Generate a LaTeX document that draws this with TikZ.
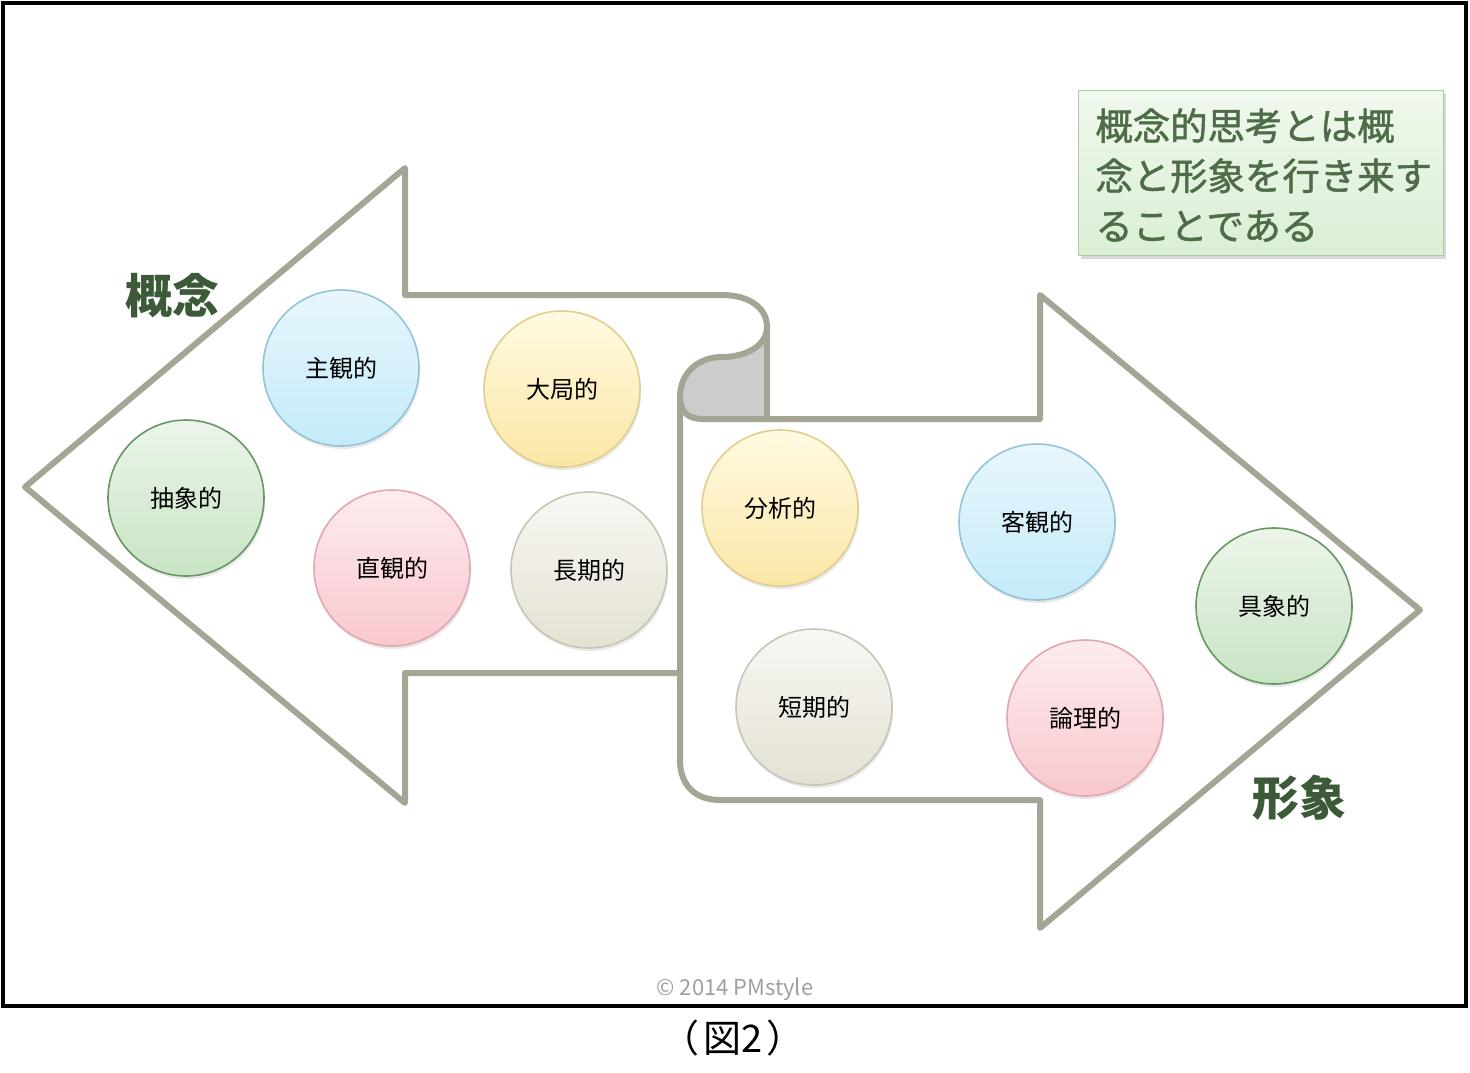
\documentclass[tikz,border=0pt]{standalone}
\usepackage{fontspec}
\newfontfamily\jp{Noto Sans CJK JP}
\newfontfamily\jpm[FakeBold=1.3]{Noto Sans CJK JP}
\usetikzlibrary{shadows}
\definecolor{arrowgray}{RGB}{165,165,150}
\definecolor{curlgray}{RGB}{204,204,204}
\definecolor{gtop}{RGB}{236,245,234}
\definecolor{gbot}{RGB}{200,228,196}
\definecolor{gbord}{RGB}{104,150,100}
\definecolor{btop}{RGB}{232,246,252}
\definecolor{bbot}{RGB}{196,235,249}
\definecolor{bbord}{RGB}{150,196,214}
\definecolor{ytop}{RGB}{255,250,226}
\definecolor{ybot}{RGB}{250,230,166}
\definecolor{ybord}{RGB}{226,206,140}
\definecolor{ptop}{RGB}{252,236,238}
\definecolor{pbot}{RGB}{248,200,206}
\definecolor{pbord}{RGB}{228,166,174}
\definecolor{etop}{RGB}{248,247,242}
\definecolor{ebot}{RGB}{228,225,212}
\definecolor{ebord}{RGB}{200,197,180}
\definecolor{labgreen}{RGB}{60,90,56}
\definecolor{boxtext}{RGB}{78,108,72}
\definecolor{boxtop}{RGB}{240,248,237}
\definecolor{boxbot}{RGB}{218,239,212}
\definecolor{boxbord}{RGB}{170,204,160}
\definecolor{copygray}{RGB}{160,160,160}
\tikzset{
  arrowline/.style={draw=arrowgray, line width=3pt, line join=round},
  bubble/.style={circle, minimum size=78pt, inner sep=0pt, line width=0.8pt,
    font=\jp\fontsize{12}{14}\selectfont,
    drop shadow={opacity=0.18, shadow xshift=0.6pt, shadow yshift=-1.5pt}},
  gb/.style={bubble, draw=gbord, top color=gtop, bottom color=gbot},
  bb/.style={bubble, draw=bbord, top color=btop, bottom color=bbot},
  yb/.style={bubble, draw=ybord, top color=ytop, bottom color=ybot},
  pb/.style={bubble, draw=pbord, top color=ptop, bottom color=pbot},
  eb/.style={bubble, draw=ebord, top color=etop, bottom color=ebot},
  biglabel/.style={font=\jp\bfseries\fontsize{23.5}{26}\selectfont, text=labgreen, inner sep=0pt},
}
\begin{document}
\begin{tikzpicture}[x=0.5pt,y=-0.5pt]
\useasboundingbox (0,0) rectangle (1470,1072);
\fill[white] (0,0) rectangle (1470,1072);
\draw[black, line width=2pt] (3,3) rectangle (1466,1006);

% curl fill
\fill[curlgray] (767,327) .. controls (767,345) and (747,357) .. (722,357)
  .. controls (698,357) and (680,373) .. (680,397)
  .. controls (680,412) and (688,419) .. (703,419) -- (767,419) -- cycle;

% left arrow
\draw[arrowline] (680,673) -- (405,673) -- (405,803) -- (25,487) -- (405,168) -- (405,295) -- (722,295)
  .. controls (748,295) and (767,307) .. (767,327)
  .. controls (767,345) and (747,357) .. (722,357)
  .. controls (698,357) and (680,373) .. (680,397);
% right arrow
\draw[arrowline] (680,397) -- (680,760) .. controls (680,785) and (695,800) .. (720,800)
  -- (1040,800) -- (1040,928) -- (1420,610) -- (1040,295) -- (1040,419) -- (767,419) -- (767,327);
\draw[arrowline] (680,397) .. controls (680,412) and (688,419) .. (703,419) -- (767,419);

% bubbles
\node[gb] (abs) at (186,498) {抽象的};
\node[bb] (subj) at (341,368) {主観的};
\node[yb] (big) at (562,389) {大局的};
\node[pb] (intu) at (392,568) {直観的};
\node[eb] (long) at (589,570) {長期的};
\node[yb] (anal) at (780,508) {分析的};
\node[bb] (obj) at (1037,522) {客観的};
\node[gb] (conc) at (1274,606) {具象的};
\node[eb] (short) at (814,707) {短期的};
\node[pb] (logi) at (1085,718) {論理的};

% labels
\node[biglabel] (gainen) at (172,296) {概念};
\node[biglabel] (keisho) at (1299,798) {形象};

% top-right box
\node[draw=boxbord, line width=0.8pt, top color=boxtop, bottom color=boxbot,
  minimum width=182.5pt, minimum height=82.5pt,
  drop shadow={opacity=0.3, shadow xshift=1.2pt, shadow yshift=-1.5pt}] (tbox) at (1261,173) {};
\node[anchor=north west, inner sep=0pt, align=left, text=boxtext,
  font=\jpm\fontsize{18.7}{25}\selectfont] (tboxtext) at (1095,108)
  {概念的思考とは概\\念と形象を行き来す\\ることである};

% copyright and caption
\node[font=\jp\fontsize{11}{13}\selectfont, text=copygray] (copy) at (735,989) {© 2014 PMstyle};
\node[font=\jp\fontsize{19}{21}\selectfont] (cap) at (733,1038) {（\kern2pt 図2\kern2pt）};
\end{tikzpicture}
\end{document}
